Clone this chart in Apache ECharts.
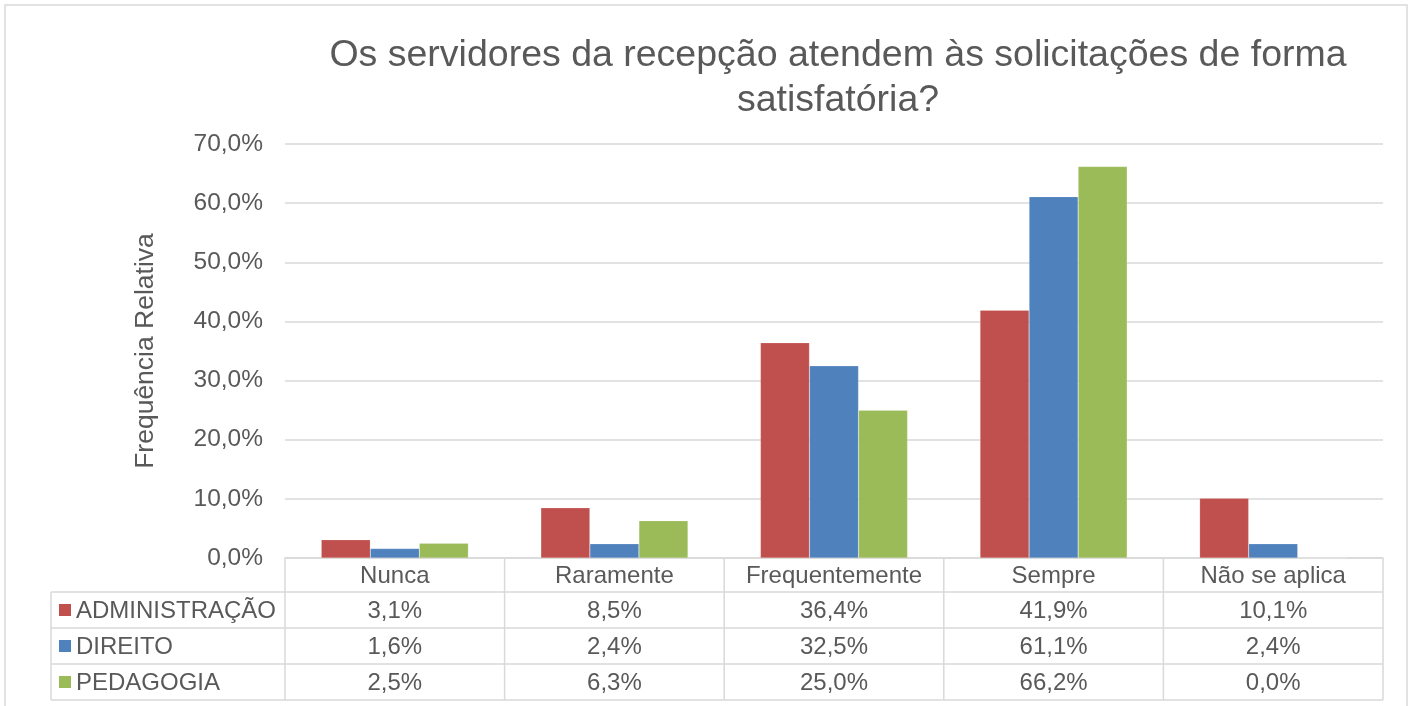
<!DOCTYPE html>
<html>
<head>
<meta charset="utf-8">
<script src="https://cdn.jsdelivr.net/npm/echarts@6/dist/echarts.min.js"></script>
<style>
html,body{margin:0;padding:0;background:#fff;}
#chart{width:1416px;height:706px;}
</style>
</head>
<body>
<div id="chart"></div>
<script>
const titleText = 'Os servidores da recepção atendem às solicitações de forma\nsatisfatória?';
const yAxisName = 'Frequência Relativa';
const categories = ['Nunca', 'Raramente', 'Frequentemente', 'Sempre', 'Não se aplica'];
const seriesNames = ['ADMINISTRAÇÃO', 'DIREITO', 'PEDAGOGIA'];
const administracao = [3.1, 8.5, 36.4, 41.9, 10.1];
const direito = [1.6, 2.4, 32.5, 61.1, 2.4];
const pedagogia = [2.5, 6.3, 25.0, 66.2, 0.0];
const seriesColors = ['#C0504D', '#4F81BD', '#9BBB59'];
const yMin = 0, yMax = 70, yStep = 10;

const allValues = [administracao, direito, pedagogia];
const fmt = v => v.toFixed(1).replace('.', ',') + '%';
const FONT = 'Liberation Sans, Arial, sans-serif';
const TXT = '#595959';
const LINE = '#d9d9d9';

const chart = echarts.init(document.getElementById('chart'), null, {renderer: 'canvas'});

const option = {
  animation: false,
  backgroundColor: '#fff',
  title: {
    text: titleText,
    left: 833,
    top: 28,
    textAlign: 'center',
    textStyle: {fontFamily: FONT, fontSize: 37.5, fontWeight: 'normal', color: TXT, lineHeight: 45}
  },
  grid: {left: 285, right: 33, top: 144, bottom: 148, containLabel: false},
  xAxis: {
    type: 'category',
    data: categories,
    axisLine: {show: true, lineStyle: {color: LINE, width: 1.5}},
    axisTick: {show: false},
    axisLabel: {show: false}
  },
  yAxis: {
    type: 'value',
    min: yMin, max: yMax, interval: yStep,
    name: yAxisName,
    nameLocation: 'middle',
    nameRotate: 90,
    nameGap: 126,
    nameTextStyle: {fontFamily: FONT, fontSize: 26.5, color: TXT},
    axisLine: {show: false},
    axisTick: {show: false},
    axisLabel: {fontFamily: FONT, fontSize: 24.5, color: TXT, margin: 22, formatter: v => fmt(v)},
    splitLine: {lineStyle: {color: LINE, width: 1.5}}
  },
  series: seriesNames.map((n, i) => ({
    name: n,
    type: 'bar',
    data: allValues[i],
    barGap: '0%',
    barCategoryGap: '33%',
    itemStyle: {color: seriesColors[i], borderColor: 'rgba(255,255,255,0.35)', borderWidth: 0.5}
  }))
};
chart.setOption(option);

// Build data table below plot using axis scale positions
const gridRect = chart.getModel().getComponent('grid').coordinateSystem.getRect();
const x0 = gridRect.x, x1 = gridRect.x + gridRect.width;
const catW = gridRect.width / categories.length;
const yTop = gridRect.y + gridRect.height;
const headerH = 34, rowH = 36;
const tableLeft = 51;
const els = [];
// outer chart border
els.push({type: 'rect', shape: {x: 5, y: 5, width: 1402, height: 760}, style: {fill: 'none', stroke: LINE, lineWidth: 1.5}, silent: true});
// vertical lines at category boundaries
for (let i = 0; i <= categories.length; i++) {
  const x = x0 + i * catW;
  els.push({type: 'line', shape: {x1: x, y1: yTop, x2: x, y2: yTop + headerH + rowH * seriesNames.length}, style: {stroke: LINE, lineWidth: 1.5}});
}
// left column line
els.push({type: 'line', shape: {x1: tableLeft, y1: yTop + headerH, x2: tableLeft, y2: yTop + headerH + rowH * seriesNames.length}, style: {stroke: LINE, lineWidth: 1.5}});
// horizontal row lines
for (let r = 0; r <= seriesNames.length; r++) {
  const y = yTop + headerH + r * rowH;
  els.push({type: 'line', shape: {x1: tableLeft, y1: y, x2: x1, y2: y}, style: {stroke: LINE, lineWidth: 1.5}});
}
// header texts
categories.forEach((c, i) => {
  els.push({type: 'text', x: x0 + (i + 0.5) * catW, y: yTop + headerH / 2 + 1,
    style: {text: c, fill: TXT, font: '24px ' + FONT, textAlign: 'center', textVerticalAlign: 'middle'}});
});
// rows
seriesNames.forEach((n, r) => {
  const cy = yTop + headerH + (r + 0.5) * rowH;
  els.push({type: 'rect', shape: {x: 59, y: cy - 6, width: 12, height: 12}, style: {fill: seriesColors[r]}});
  els.push({type: 'text', x: 76, y: cy + 1, style: {text: n, fill: TXT, font: '24px ' + FONT, textAlign: 'left', textVerticalAlign: 'middle'}});
  allValues[r].forEach((v, i) => {
    els.push({type: 'text', x: x0 + (i + 0.5) * catW, y: cy + 1,
      style: {text: fmt(v), fill: TXT, font: '24px ' + FONT, textAlign: 'center', textVerticalAlign: 'middle'}});
  });
});
chart.setOption({graphic: {elements: els}});
</script>
</body>
</html>
